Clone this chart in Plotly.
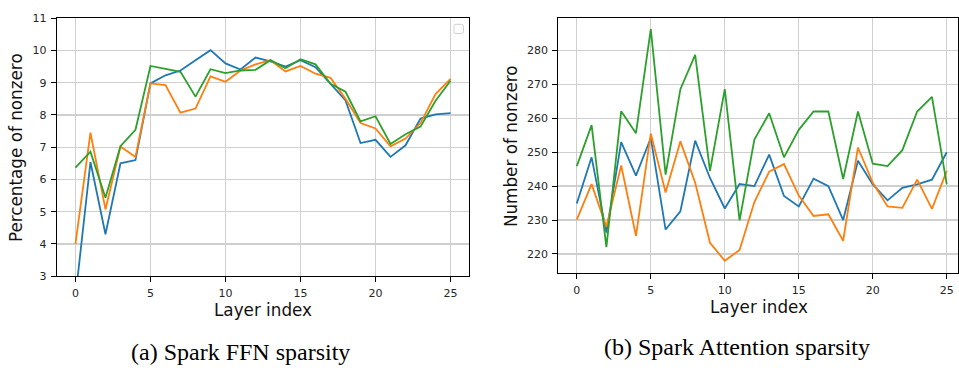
import plotly.graph_objects as go

W, H = 959, 371

layers = list(range(26))

# (a) Spark FFN sparsity — percentage of nonzero
ffn_blue = [2.35, 6.54, 4.30, 6.50, 6.60, 8.98, 9.23, 9.38, 9.70, 10.01,
            9.60, 9.41, 9.78, 9.66, 9.50, 9.70, 9.48, 8.98, 8.45, 7.13,
            7.23, 6.70, 7.06, 7.89, 8.02, 8.06]
ffn_orange = [4.00, 7.45, 5.07, 7.02, 6.70, 8.98, 8.93, 8.07, 8.20, 9.20,
              9.03, 9.38, 9.57, 9.70, 9.35, 9.52, 9.28, 9.15, 8.50, 7.75,
              7.58, 7.03, 7.27, 7.75, 8.65, 9.12]
ffn_green = [6.37, 6.86, 5.43, 7.03, 7.54, 9.52, 9.43, 9.34, 8.57, 9.42,
             9.30, 9.38, 9.40, 9.70, 9.45, 9.73, 9.57, 8.97, 8.72, 7.80,
             7.96, 7.10, 7.40, 7.64, 8.44, 9.06]

# (b) Spark Attention sparsity — number of nonzero
att_blue = [234.9, 248.5, 226.3, 253.0, 243.1, 254.2, 227.2, 232.6, 253.4, 242.4,
            233.4, 240.6, 240.0, 249.3, 237.1, 234.0, 242.2, 240.0, 230.0, 247.5,
            240.5, 235.8, 239.5, 240.5, 241.9, 250.0]
att_orange = [230.1, 240.6, 228.0, 246.1, 225.3, 255.5, 238.1, 253.2, 241.0, 223.3,
              218.0, 221.2, 235.3, 244.3, 246.5, 237.2, 231.2, 231.7, 223.9, 251.4,
              241.0, 234.0, 233.6, 241.9, 233.3, 244.5]
att_green = [245.9, 258.0, 222.0, 262.1, 255.6, 286.3, 243.4, 268.6, 278.7, 244.5,
             268.6, 229.9, 253.7, 261.5, 248.5, 256.6, 262.0, 262.0, 242.1, 262.0,
             246.6, 245.9, 250.6, 262.0, 266.3, 240.5]

x_ticks = [0, 5, 10, 15, 20, 25]
ffn_y_ticks = [3, 4, 5, 6, 7, 8, 9, 10, 11]
att_y_ticks = [220, 230, 240, 250, 260, 270, 280]

colors = ["#1f77b4", "#ff7f0e", "#2ca02c"]

caption_a = "(a) Spark FFN sparsity"
caption_b = "(b) Spark Attention sparsity"
x_title = "Layer index"
y_title_a = "Percentage of nonzero"
y_title_b = "Number of nonzero"


def px(x):
    return x / W


def py(y):
    return 1 - y / H


fig = go.Figure()
for ys, c in zip([ffn_blue, ffn_orange, ffn_green], colors):
    fig.add_trace(go.Scatter(x=layers, y=ys, mode="lines", xaxis="x", yaxis="y",
                             line=dict(color=c, width=1.8), showlegend=False,
                             hoverinfo="skip"))
for ys, c in zip([att_blue, att_orange, att_green], colors):
    fig.add_trace(go.Scatter(x=layers, y=ys, mode="lines", xaxis="x2", yaxis="y2",
                             line=dict(color=c, width=1.8), showlegend=False,
                             hoverinfo="skip"))

tickfont = dict(family="DejaVu Sans", size=11, color="#262626")
common = dict(showline=True, linecolor="black", linewidth=1, mirror=True,
              ticks="outside", ticklen=5, tickcolor="black", tickwidth=1,
              ticklabelstandoff=2,
              showgrid=True, gridcolor="#cfcfcf", gridwidth=1.3,
              zeroline=False, tickfont=tickfont)

fig.update_layout(
    width=W, height=H,
    margin=dict(l=0, r=0, t=0, b=0),
    paper_bgcolor="white", plot_bgcolor="white",
    showlegend=False,
    xaxis=dict(domain=[px(56.7), px(469.3)], range=[-1.25, 26.25],
               tickvals=x_ticks, anchor="y", **common),
    yaxis=dict(domain=[py(280), py(12.7)], range=[3, 11],
               tickvals=ffn_y_ticks, anchor="x", **common),
    xaxis2=dict(domain=[px(558.3), px(958.3)], range=[-1.25, 25.78],
                tickvals=x_ticks, anchor="y2", **common),
    yaxis2=dict(domain=[py(276.3), py(12.7)], range=[214.5, 289.5],
                tickvals=att_y_ticks, anchor="x2", **common),
)

titlefont = dict(family="DejaVu Sans", size=16.8, color="#111")
capfont = dict(family="Liberation Serif", size=24, color="black")
ann = [
    dict(x=px(263), y=py(315.5), text=x_title, font=titlefont),
    dict(x=px(759), y=py(311.5), text=x_title, font=titlefont),
    dict(x=px(16.7), y=py(146.5), text=y_title_a, font=titlefont, textangle=-90),
    dict(x=px(511.7), y=py(145.5), text=y_title_b, font=titlefont, textangle=-90),
    dict(x=px(240), y=py(358.5), text=caption_a, font=capfont),
    dict(x=px(736.7), y=py(353.5), text=caption_b, font=capfont),
]
for a in ann:
    a.update(xref="paper", yref="paper", xanchor="center", yanchor="middle",
             showarrow=False)
fig.update_layout(annotations=ann)

# empty legend frame (top right of left panel)
x0, x1, y0, y1, r = 454, 463.5, 19, 28.5, 2
path = (f"M {px(x0 + r)},{py(y0)} L {px(x1 - r)},{py(y0)} "
        f"Q {px(x1)},{py(y0)} {px(x1)},{py(y0 + r)} L {px(x1)},{py(y1 - r)} "
        f"Q {px(x1)},{py(y1)} {px(x1 - r)},{py(y1)} L {px(x0 + r)},{py(y1)} "
        f"Q {px(x0)},{py(y1)} {px(x0)},{py(y1 - r)} L {px(x0)},{py(y0 + r)} "
        f"Q {px(x0)},{py(y0)} {px(x0 + r)},{py(y0)} Z")
fig.add_shape(type="path", path=path, xref="paper", yref="paper",
              line=dict(color="#d0d0d0", width=1), fillcolor="white")

fig.write_html("out.html",
               config={"displayModeBar": False, "staticPlot": True},
               post_script="document.body.style.margin='0';"
                           "document.body.style.overflow='hidden';")
